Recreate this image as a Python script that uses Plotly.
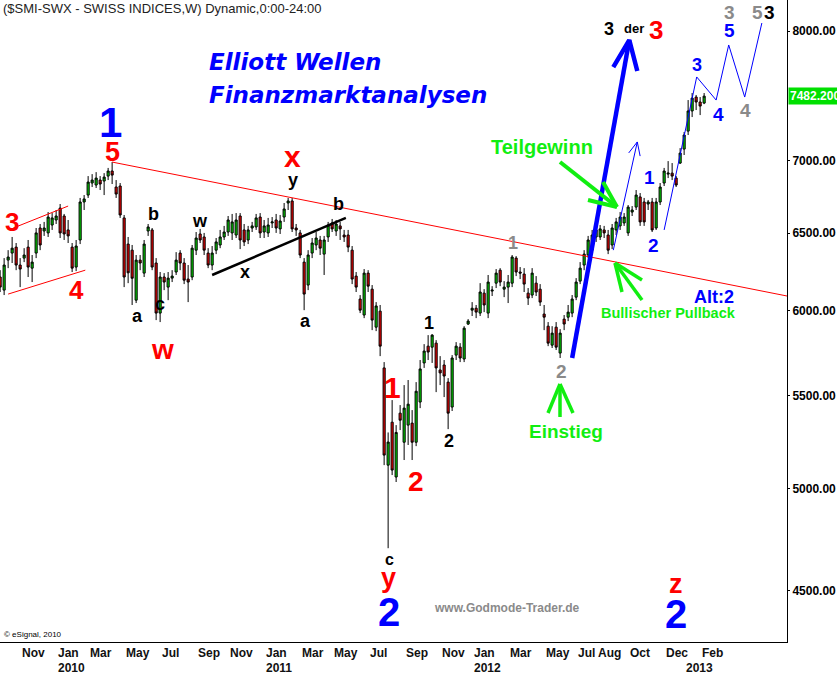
import math
import pandas as pd
import plotly.graph_objects as go

# ---------------- data (weekly SMI candles) ----------------
first_week = "2009-09-28"
opens = [
6213,6130,6322,6368,6407,6290,6335,6407,6270,6368,
6534,6514,6501,6554,6588,6669,6615,6521,6407,6277,
6454,6711,6759,6843,6829,6864,6857,6892,6928,6815,
6822,6602,6427,6387,6067,6322,6238,6514,6521,6303,
5987,6213,6149,6206,6245,6368,6303,6200,6213,6387,
6494,6474,6368,6290,6387,6421,6474,6507,6501,6487,
6615,6521,6454,6534,6541,6608,6507,6501,6568,6588,
6528,6608,6704,6718,6534,6501,6309,6162,6368,6421,
6454,6361,6474,6568,6514,6548,6487,6487,6387,6219,
6074,5975,6238,6136,5901,5999,5659,5121,5352,5059,
5402,5243,5336,5347,5243,5464,5688,5787,5781,5805,
5647,5676,5577,5436,5734,5781,5711,5920,6005,6017,
5987,6111,5987,6124,6174,6257,6136,6149,6174,6335,
6245,6232,6111,6099,6174,6136,5981,5907,5793,5901,
5746,5950,5962,5987,6086,6187,6290,6355,6387,6474,
6474,6521,6487,6421,6521,6548,6568,6501,6642,6676,
6746,6711,6697,6711,6534,6711,6843,6906,6913,6878,
6985,7086,7218,7369,7475,7437,7429]
highs = [
6257,6335,6387,6474,6434,6335,6400,6454,6355,6534,
6561,6575,6642,6635,6656,6697,6629,6588,6434,6454,
6739,6759,6892,6906,6920,6892,6913,6950,6992,6864,
6843,6622,6474,6421,6355,6355,6454,6561,6534,6335,
6245,6238,6245,6257,6374,6387,6335,6290,6421,6507,
6528,6501,6400,6414,6467,6521,6548,6615,6629,6635,
6635,6561,6548,6575,6629,6635,6588,6602,6608,6629,
6622,6704,6739,6739,6561,6521,6335,6387,6467,6507,
6481,6481,6575,6595,6588,6575,6521,6521,6414,6245,
6099,6264,6257,6162,6055,6037,5693,5296,5475,5336,
5447,5560,5589,5419,5577,5705,5799,5853,5859,5823,
5728,5705,5600,5734,5811,5805,5907,5950,6055,6037,
6174,6136,6226,6155,6264,6270,6187,6226,6355,6348,
6277,6270,6143,6270,6219,6168,6037,5932,5907,5932,
5889,5975,6037,6099,6206,6309,6387,6481,6521,6548,
6554,6548,6521,6561,6602,6642,6635,6690,6683,6794,
6773,6739,6725,6739,6739,6843,6950,6999,6985,6892,
7093,7211,7452,7506,7491,7475,7506]
lows = [
6118,6099,6270,6303,6257,6149,6309,6213,6181,6335,
6387,6481,6474,6521,6561,6467,6454,6434,6245,6251,
6427,6656,6739,6815,6808,6794,6759,6864,6836,6739,
6602,6149,6174,6037,6049,6257,6213,6481,6257,5944,
5932,6130,6067,6181,6226,6257,6168,6055,6193,6355,
6434,6355,6270,6257,6361,6400,6454,6481,6454,6467,
6394,6414,6427,6507,6521,6467,6467,6474,6534,6501,
6494,6575,6656,6507,6481,6335,6005,6130,6335,6387,
6355,6226,6441,6507,6481,6454,6441,6374,6168,6118,
5987,5956,6118,5883,5877,5728,5121,4702,5069,5033,
5309,5148,5228,5148,5222,5430,5659,5705,5688,5520,
5560,5492,5314,5414,5705,5693,5693,5914,5969,5956,
5969,5993,5956,6093,6143,6155,6086,6049,6149,6219,
6200,6118,6037,6080,6093,6031,5883,5787,5776,5764,
5717,5883,5938,5962,6067,6168,6257,6335,6368,6441,
6454,6467,6361,6394,6487,6521,6548,6481,6615,6656,
6548,6548,6656,6507,6521,6690,6822,6878,6864,6815,
6978,7043,7189,7323,7376,7338,7421]
closes = [
6149,6290,6342,6400,6290,6264,6355,6277,6309,6501,
6421,6534,6608,6602,6615,6501,6494,6481,6270,6414,
6711,6732,6850,6864,6878,6836,6885,6928,6899,6766,
6622,6213,6240,6205,6322,6303,6427,6541,6277,5987,
6213,6181,6206,6219,6322,6303,6193,6181,6400,6467,
6454,6387,6290,6368,6441,6474,6507,6588,6575,6588,
6454,6441,6521,6548,6602,6501,6548,6554,6575,6534,
6581,6663,6718,6528,6521,6355,6105,6355,6434,6467,
6400,6454,6554,6528,6561,6528,6474,6407,6200,6149,
6005,6238,6155,5944,6031,5787,5174,5244,5095,5296,
5363,5430,5452,5243,5525,5653,5758,5752,5853,5659,
5630,5612,5402,5717,5787,5717,5895,5938,6017,5993,
6118,6037,6181,6130,6238,6181,6149,6181,6342,6245,
6238,6168,6080,6238,6118,6055,5962,5805,5865,5781,
5865,5920,5993,6074,6181,6270,6361,6454,6487,6521,
6528,6501,6387,6534,6575,6608,6608,6676,6656,6759,
6575,6575,6711,6521,6711,6815,6928,6913,6892,6829,
7057,7189,7369,7467,7437,7406,7482.2]
last_price = 7482.2

# axis ticks
price_ticks = [4500, 5000, 5500, 6000, 6500, 7000, 8000]
month_labels = [(2009, 11, "Nov"), (2010, 1, "Jan"), (2010, 3, "Mar"), (2010, 5, "May"),
                (2010, 7, "Jul"), (2010, 9, "Sep"), (2010, 11, "Nov"), (2011, 1, "Jan"),
                (2011, 3, "Mar"), (2011, 5, "May"), (2011, 7, "Jul"), (2011, 9, "Sep"),
                (2011, 11, "Nov"), (2012, 1, "Jan"), (2012, 3, "Mar"), (2012, 5, "May"),
                (2012, 7, "Jul"), (2012, 8, "Aug"), (2012, 10, "Oct"), (2012, 12, "Dec"),
                (2013, 2, "Feb")]
year_labels = [2010, 2011, 2012, 2013]

# analyst drawings (date, price)
trend_red_d = ["2010-04-12", "2013-07-06"]; trend_red_p = [6992, 6093]
wedge_up_d = ["2009-10-21", "2010-01-25"]; wedge_up_p = [6534, 6683]
wedge_lo_d = ["2009-10-12", "2010-02-24"]; wedge_lo_p = [6105, 6257]
black_d = ["2010-10-04", "2011-05-26"]; black_p = [6226, 6602]
thick_d = ["2012-06-25", "2012-10-03"]; thick_p = [5717, 7926]
thick_head_d = ["2012-09-05", "2012-10-03", "2012-10-17"]; thick_head_p = [7709, 7926, 7678]
thin_d = ["2012-09-05", "2012-10-17"]; thin_p = [6387, 7138]
thin_head_d = ["2012-10-02", "2012-10-17", "2012-10-22"]; thin_head_p = [7058, 7138, 7035]
zig_d = ["2012-12-03", "2013-01-29", "2013-03-04", "2013-03-26", "2013-04-23", "2013-05-23"]
zig_p = [6521, 7631, 7452, 7886, 7475, 8066]

# ---------------- figure ----------------
dates = pd.date_range(first_week, periods=len(closes), freq="7D")
SANS = "Liberation Sans, Arial, sans-serif"
PW, PH = 787, 642

fig = go.Figure()
fig.add_trace(go.Candlestick(
    x=dates, open=opens, high=highs, low=lows, close=closes,
    increasing=dict(fillcolor="#00d200", line=dict(color="black", width=1)),
    decreasing=dict(fillcolor="#ee0000", line=dict(color="black", width=1)),
    whiskerwidth=0, showlegend=False, hoverinfo="skip"))

def add_line(d, p, color, width):
    fig.add_trace(go.Scatter(x=pd.to_datetime(d), y=p, mode="lines",
                             line=dict(color=color, width=width),
                             showlegend=False, hoverinfo="skip"))

add_line(trend_red_d, trend_red_p, "#ff0000", 1)
add_line(wedge_up_d, wedge_up_p, "#ff0000", 1)
add_line(wedge_lo_d, wedge_lo_p, "#ff0000", 1)
add_line(black_d, black_p, "#000000", 2.5)
add_line(thick_d, thick_p, "#0000ff", 4.5)
add_line(thick_head_d, thick_head_p, "#0000ff", 4.5)
add_line(thin_d, thin_p, "#0000ff", 1)
add_line(thin_head_d, thin_head_p, "#0000ff", 1)
add_line(zig_d, zig_p, "#0000ff", 1)

annotations = []

def lab(text, px, py, size, color, bold=True, italic=False, family=SANS,
        xanchor="center", yanchor="middle"):
    t = text
    if bold:
        t = f"<b>{t}</b>"
    if italic:
        t = f"<i>{t}</i>"
    annotations.append(dict(text=t, x=px / PW, y=1 - py / PH, xref="paper", yref="paper",
                            showarrow=False, xanchor=xanchor, yanchor=yanchor,
                            font=dict(size=size, color=color, family=family)))

BLUE, RED, BLK, GREY, GRN = "#0000ff", "#ff0000", "#000000", "#8a8a8a", "#11ee11"

# header / titles
lab("($SMI-SWX - SWISS INDICES,W) Dynamic,0:00-24:00", 1, 8, 13, "#222222", bold=False, xanchor="left")
lab("Elliott Wellen", 207, 62, 23, BLUE, italic=True, family="DejaVu Sans", xanchor="left")
lab("Finanzmarktanalysen", 207, 95, 23, BLUE, italic=True, family="DejaVu Sans", xanchor="left")
lab("www.Godmode-Trader.de", 507, 608, 12, GREY)
lab("© eSignal, 2010", 2, 634, 8, BLK, bold=False, xanchor="left")

# wave labels
for t, x, y, s, c in [
    ("1", 111, 122, 42, BLUE), ("5", 112, 152, 27, RED), ("3", 12, 222, 26, RED),
    ("4", 76, 290, 26, RED), ("b", 153, 214, 18, BLK), ("a", 137, 316, 18, BLK),
    ("c", 160, 304, 18, BLK), ("w", 162, 350, 28, RED), ("w", 200, 221, 18, BLK),
    ("x", 245, 272, 18, BLK), ("x", 292, 157, 30, RED), ("y", 293, 180, 18, BLK),
    ("b", 338, 204, 18, BLK), ("a", 305, 321, 18, BLK), ("1", 392, 387, 30, RED),
    ("2", 416, 481, 28, RED), ("1", 429, 323, 18, BLK), ("2", 449, 441, 18, BLK),
    ("c", 389, 559, 16, BLK), ("y", 388, 578, 27, RED), ("2", 389, 612, 40, BLUE),
    ("1", 513, 243, 18, GREY), ("2", 561, 371, 19, GREY), ("3", 609, 29, 18, BLK),
    ("der", 634, 28, 13, BLK), ("3", 656, 30, 26, RED), ("1", 649, 178, 19, BLUE),
    ("2", 653, 245, 19, BLUE), ("3", 697, 65, 18, BLUE), ("4", 718, 115, 19, BLUE),
    ("5", 729, 31, 19, BLUE), ("3", 729, 12, 19, GREY), ("4", 745, 110, 19, GREY),
    ("5", 757, 12, 19, GREY), ("3", 769, 12, 19, BLK), ("z", 676, 584, 27, RED),
    ("2", 676, 614, 40, BLUE)]:
    lab(t, x, y, s, c)

lab("Teilgewinn", 542, 147, 20, GRN)
lab("Einstieg", 566, 431, 19, GRN)
lab("Bullischer Pullback", 668, 313, 14.5, GRN)
lab("Alt:2", 714, 297, 18, BLUE)

# x axis month / year labels (left aligned at first weekly bar of month)
def first_bar(y, m):
    for d in dates:
        if d.year == y and d.month == m:
            return d
    return None

for y, m, name in month_labels:
    annotations.append(dict(text=f"<b>{name}</b>", x=first_bar(y, m), y=0, xref="x", yref="paper",
                            xanchor="left", yanchor="top", yshift=-2, showarrow=False,
                            font=dict(size=12, color="#111111", family=SANS)))
for y in year_labels:
    annotations.append(dict(text=f"<b>{y}</b>", x=first_bar(y, 1), y=0, xref="x", yref="paper",
                            xanchor="left", yanchor="top", yshift=-17, showarrow=False,
                            font=dict(size=12, color="#111111", family=SANS)))

# last price tag
annotations.append(dict(text=f"<b>{last_price:.3f}</b>", x=1, y=math.log10(last_price),
                        xref="paper", yref="y", xanchor="left", yanchor="middle", xshift=1,
                        showarrow=False, bgcolor="#00e000", borderpad=1,
                        font=dict(size=12, color="white", family=SANS)))

# green arrows (drawn strokes)
shapes = []
def seg(x0, y0, x1, y1, color=GRN, width=4):
    shapes.append(dict(type="line", xref="paper", yref="paper",
                       x0=x0 / PW, y0=1 - y0 / PH, x1=x1 / PW, y1=1 - y1 / PH,
                       line=dict(color=color, width=width)))

seg(560, 162, 617, 207); seg(617, 207, 588, 200); seg(617, 207, 603, 182)
seg(615, 263, 622, 292, width=3.5); seg(615, 263, 642, 300, width=3.5); seg(615, 263, 642, 280, width=3.5)
seg(560, 384, 548, 413, width=3.5); seg(560, 384, 560, 417, width=3.5); seg(560, 384, 573, 413, width=3.5)

fig.update_layout(
    width=837, height=674, autosize=False,
    margin=dict(l=0, r=50, t=0, b=32),
    paper_bgcolor="white", plot_bgcolor="white",
    annotations=annotations, shapes=shapes,
    boxgap=0.25, hovermode=False, dragmode=False,
    xaxis=dict(type="date", range=["2009-09-27 18:00", "2013-07-06"],
               showgrid=False, zeroline=False, showticklabels=False, ticks="",
               showline=True, linecolor="black", linewidth=1,
               rangeslider=dict(visible=False)),
    yaxis=dict(type="log", side="right",
               range=[math.log10(4270), math.log10(8259)],
               tickvals=price_ticks, ticktext=[f"{v:.2f}" for v in price_ticks],
               tickfont=dict(size=12, color="black", family=SANS, weight="bold"),
               showgrid=False, zeroline=False, showline=True, linecolor="black", linewidth=1,
               ticks="outside", ticklen=2, tickcolor="black"),
)

fig.write_html("out.html", config={"displayModeBar": False, "staticPlot": True},
               post_script="document.body.style.margin='0px';document.body.style.padding='0px';")
